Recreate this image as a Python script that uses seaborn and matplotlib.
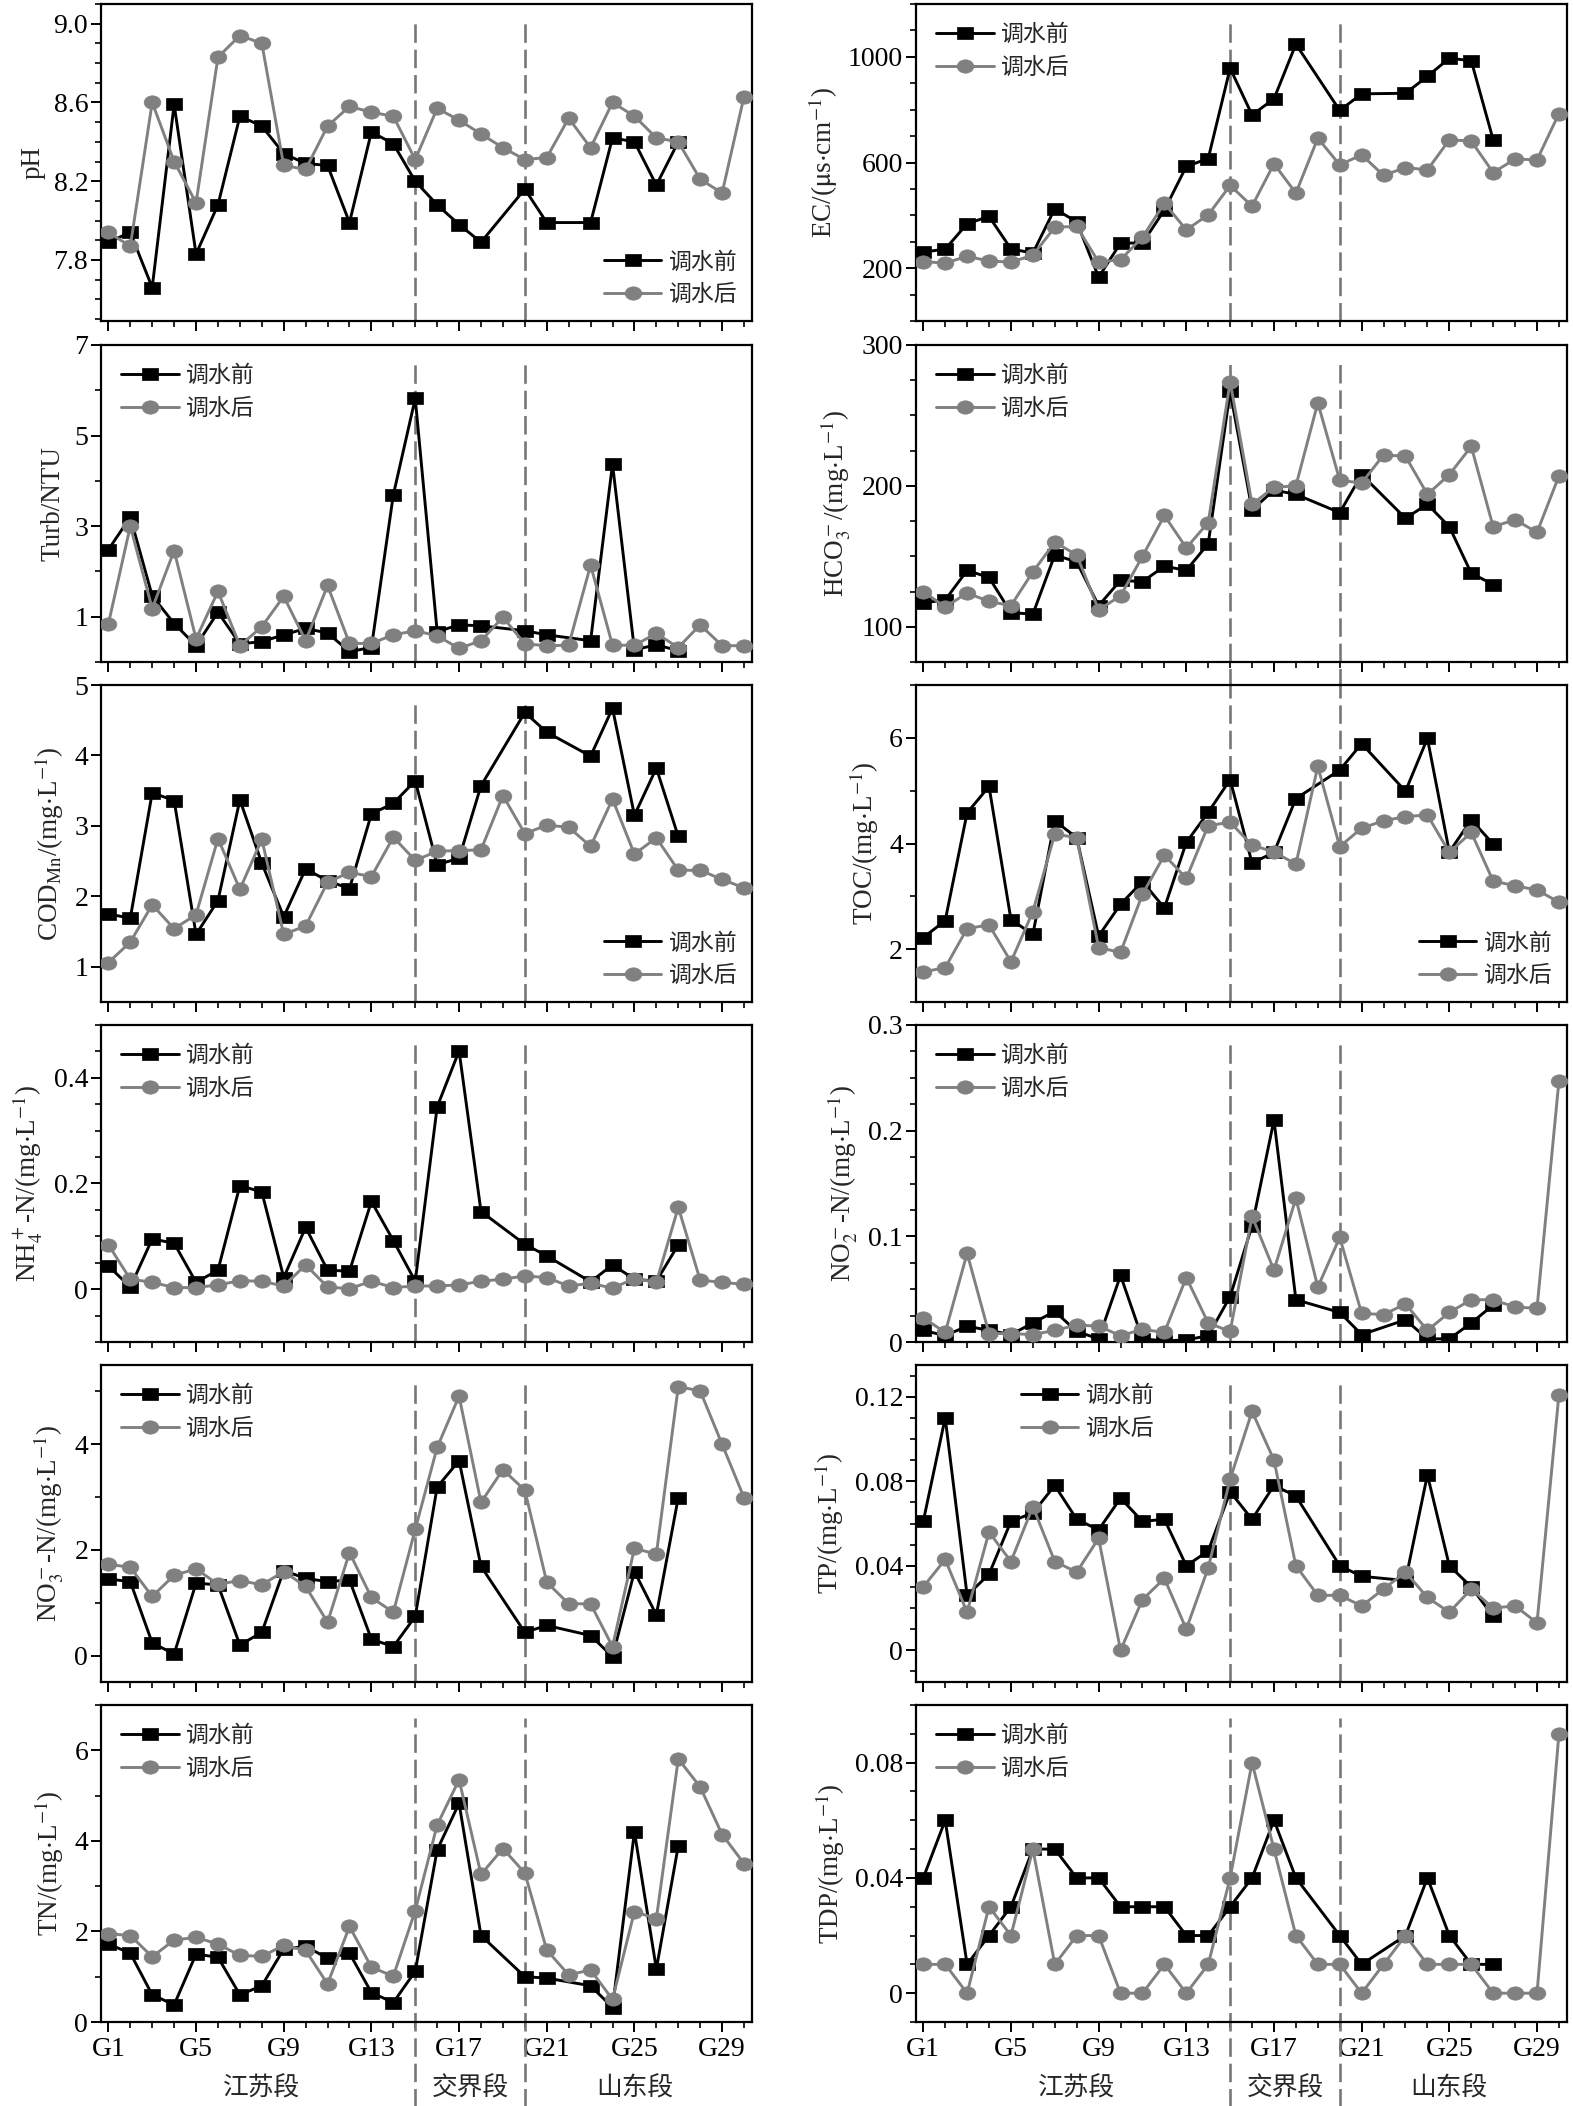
import numpy as np
import pandas as pd
import seaborn as sns
import matplotlib.pyplot as plt
from matplotlib.path import Path
from matplotlib.transforms import Affine2D
from matplotlib.ticker import MultipleLocator

nan = np.nan

# sites G1..G30
site_no = list(range(1, 31))
xtick_pos = [1, 5, 9, 13, 17, 21, 25, 29]
xtick_labels = ["G1", "G5", "G9", "G13", "G17", "G21", "G25", "G29"]
section_names = ["江苏段", "交界段", "山东段"]
section_pos = [8, 17.5, 25]
section_breaks = [15, 20]

# values (before = 调水前, after = 调水后)
ph_before = [7.89, 7.94, 7.66, 8.59, 7.83, 8.08, 8.53, 8.48, 8.34, 8.29, 8.28, 7.99, 8.45, 8.39, 8.20,
             8.08, 7.98, 7.89, nan, 8.16, 7.99, nan, 7.99, 8.42, 8.40, 8.18, 8.40, nan, nan, nan]
ph_after = [7.94, 7.87, 8.60, 8.30, 8.09, 8.83, 8.94, 8.90, 8.28, 8.26, 8.48, 8.58, 8.55, 8.53, 8.31,
            8.57, 8.51, 8.44, 8.37, 8.31, 8.32, 8.52, 8.37, 8.60, 8.53, 8.42, 8.40, 8.21, 8.14, 8.63]

ec_before = [261, 272, 368, 396, 273, 257, 425, 375, 166, 295, 295, 420, 585, 615, 957,
             780, 841, 1048, nan, 797, 860, nan, 862, 926, 995, 985, 686, nan, nan, nan]
ec_after = [225, 219, 245, 227, 223, 249, 355, 358, 223, 232, 317, 446, 345, 402, 513,
            435, 595, 484, 692, 591, 629, 551, 581, 572, 686, 681, 562, 613, 610, 785]

turb_before = [2.48, 3.20, 1.46, 0.85, 0.36, 1.10, 0.40, 0.45, 0.60, 0.74, 0.64, 0.23, 0.32, 3.69, 5.82,
               0.67, 0.82, 0.80, nan, 0.69, 0.60, nan, 0.47, 4.37, 0.27, 0.38, 0.25, nan, nan, nan]
turb_after = [0.84, 3.00, 1.18, 2.46, 0.51, 1.56, 0.36, 0.78, 1.45, 0.47, 1.69, 0.41, 0.41, 0.60, 0.69,
              0.58, 0.30, 0.47, 0.99, 0.40, 0.36, 0.37, 2.14, 0.37, 0.37, 0.63, 0.32, 0.82, 0.36, 0.36]

hco3_before = [117, 119, 140, 135, 110, 109, 151, 146, 115, 133, 132, 143, 140, 159, 267,
               183, 197, 194, nan, 181, 208, nan, 177, 187, 171, 138, 130, nan, nan, nan]
hco3_after = [125, 114, 124, 118, 115, 139, 160, 151, 112, 122, 150, 179, 156, 174, 274,
              187, 199, 200, 259, 204, 202, 222, 221, 194, 208, 228, 171, 176, 167, 207]

cod_before = [1.75, 1.69, 3.47, 3.36, 1.46, 1.94, 3.37, 2.47, 1.71, 2.39, 2.22, 2.11, 3.17, 3.32, 3.64,
              2.45, 2.54, 3.57, nan, 4.61, 4.33, nan, 3.99, 4.67, 3.15, 3.82, 2.85, nan, nan, nan]
cod_after = [1.06, 1.35, 1.88, 1.54, 1.74, 2.82, 2.10, 2.81, 1.46, 1.58, 2.20, 2.34, 2.28, 2.84, 2.51,
             2.64, 2.65, 2.66, 3.43, 2.89, 3.01, 2.98, 2.71, 3.38, 2.60, 2.83, 2.37, 2.37, 2.24, 2.12]

toc_before = [2.22, 2.54, 4.58, 5.08, 2.56, 2.28, 4.43, 4.11, 2.25, 2.85, 3.28, 2.78, 4.02, 4.59, 5.21,
              3.63, 3.83, 4.85, nan, 5.39, 5.89, nan, 4.99, 5.99, 3.84, 4.45, 3.99, nan, nan, nan]
toc_after = [1.57, 1.65, 2.39, 2.46, 1.76, 2.71, 4.18, 4.11, 2.03, 1.94, 3.04, 3.78, 3.34, 4.34, 4.40,
             3.97, 3.84, 3.61, 5.46, 3.94, 4.29, 4.43, 4.51, 4.54, 3.83, 4.21, 3.29, 3.20, 3.12, 2.89]

nh4_before = [0.044, 0.004, 0.095, 0.087, 0.013, 0.036, 0.196, 0.184, 0.022, 0.117, 0.036, 0.034, 0.166, 0.092, 0.015,
              0.345, 0.451, 0.147, nan, 0.085, 0.063, nan, 0.014, 0.046, 0.019, 0.015, 0.084, nan, nan, nan]
nh4_after = [0.084, 0.019, 0.013, 0.003, 0.003, 0.008, 0.016, 0.015, 0.006, 0.046, 0.004, 0.001, 0.015, 0.003, 0.006,
             0.006, 0.008, 0.015, 0.019, 0.025, 0.022, 0.006, 0.011, 0.002, 0.020, 0.013, 0.155, 0.017, 0.013, 0.009]

no2_before = [0.011, 0.006, 0.015, 0.011, 0.007, 0.018, 0.029, 0.010, 0.003, 0.063, 0.003, 0.001, 0.002, 0.006, 0.043,
              0.110, 0.210, 0.040, nan, 0.028, 0.007, nan, 0.021, 0.003, 0.003, 0.018, 0.035, nan, nan, nan]
no2_after = [0.023, 0.009, 0.084, 0.008, 0.008, 0.007, 0.011, 0.016, 0.015, 0.006, 0.012, 0.009, 0.061, 0.018, 0.010,
             0.119, 0.068, 0.136, 0.052, 0.099, 0.027, 0.026, 0.036, 0.011, 0.028, 0.040, 0.040, 0.033, 0.032, 0.247]

no3_before = [1.45, 1.40, 0.24, 0.03, 1.37, 1.34, 0.20, 0.44, 1.61, 1.46, 1.40, 1.43, 0.31, 0.17, 0.74,
              3.19, 3.69, 1.69, nan, 0.44, 0.57, nan, 0.38, -0.02, 1.59, 0.77, 2.99, nan, nan, nan]
no3_after = [1.73, 1.67, 1.12, 1.52, 1.64, 1.35, 1.42, 1.34, 1.59, 1.31, 0.63, 1.95, 1.10, 0.82, 2.39,
             3.94, 4.91, 2.90, 3.52, 3.13, 1.39, 0.98, 0.98, 0.17, 2.03, 1.92, 5.09, 5.01, 4.00, 2.99]

tp_before = [0.061, 0.110, 0.026, 0.036, 0.061, 0.065, 0.078, 0.062, 0.057, 0.072, 0.061, 0.062, 0.040, 0.047, 0.075,
             0.062, 0.078, 0.073, nan, 0.040, 0.035, nan, 0.033, 0.083, 0.040, 0.030, 0.016, nan, nan, nan]
tp_after = [0.030, 0.043, 0.018, 0.056, 0.042, 0.068, 0.042, 0.037, 0.053, 0.000, 0.024, 0.034, 0.010, 0.039, 0.081,
            0.113, 0.090, 0.040, 0.026, 0.026, 0.021, 0.029, 0.037, 0.025, 0.018, 0.029, 0.020, 0.021, 0.013, 0.121]

tn_before = [1.72, 1.52, 0.60, 0.38, 1.50, 1.43, 0.60, 0.80, 1.61, 1.67, 1.41, 1.52, 0.65, 0.43, 1.12,
             3.80, 4.83, 1.91, nan, 1.00, 0.97, nan, 0.80, 0.32, 4.20, 1.17, 3.89, nan, nan, nan]
tn_after = [1.95, 1.91, 1.44, 1.81, 1.87, 1.72, 1.47, 1.45, 1.69, 1.58, 0.84, 2.11, 1.21, 1.01, 2.46,
            4.35, 5.35, 3.26, 3.83, 3.29, 1.59, 1.04, 1.15, 0.50, 2.44, 2.28, 5.81, 5.19, 4.14, 3.50]

tdp_before = [0.04, 0.06, 0.01, 0.02, 0.03, 0.05, 0.05, 0.04, 0.04, 0.03, 0.03, 0.03, 0.02, 0.02, 0.03,
              0.04, 0.06, 0.04, nan, 0.02, 0.01, nan, 0.02, 0.04, 0.02, 0.01, 0.01, nan, nan, nan]
tdp_after = [0.01, 0.01, 0.00, 0.03, 0.02, 0.05, 0.01, 0.02, 0.02, 0.00, 0.00, 0.01, 0.00, 0.01, 0.04,
             0.08, 0.05, 0.02, 0.01, 0.01, 0.00, 0.01, 0.02, 0.01, 0.01, 0.01, 0.00, 0.00, 0.00, 0.09]

MG = r"/(mg$\cdot$L$^{-1}$)"

# ylabel, before, after, ylim, yticks, yticklabels, minor step, legend placement
panels = [
    ("pH", ph_before, ph_after, (7.49, 9.10), [7.8, 8.2, 8.6, 9.0], ["7.8", "8.2", "8.6", "9.0"], 0.1, "lower right"),
    (r"EC/($\mathrm{\mu}$s$\cdot$cm$^{-1}$)", ec_before, ec_after, (0, 1200), [200, 600, 1000], ["200", "600", "1000"], 100, "upper left"),
    ("Turb/NTU", turb_before, turb_after, (0, 7), [1, 3, 5, 7], ["1", "3", "5", "7"], 1, "upper left"),
    (r"HCO$_3^-$" + MG, hco3_before, hco3_after, (75, 300), [100, 200, 300], ["100", "200", "300"], 25, "upper left"),
    (r"COD$_{\mathrm{Mn}}$" + MG, cod_before, cod_after, (0.5, 5), [1, 2, 3, 4, 5], ["1", "2", "3", "4", "5"], None, "lower right"),
    ("TOC" + MG, toc_before, toc_after, (1, 7), [2, 4, 6], ["2", "4", "6"], 1, "lower right"),
    (r"NH$_4^+$-N" + MG, nh4_before, nh4_after, (-0.1, 0.5), [0, 0.2, 0.4], ["0", "0.2", "0.4"], 0.05, "upper left"),
    (r"NO$_2^-$-N" + MG, no2_before, no2_after, (0, 0.3), [0, 0.1, 0.2, 0.3], ["0", "0.1", "0.2", "0.3"], 0.025, "upper left"),
    (r"NO$_3^-$-N" + MG, no3_before, no3_after, (-0.5, 5.5), [0, 2, 4], ["0", "2", "4"], 1, "upper left"),
    ("TP" + MG, tp_before, tp_after, (-0.015, 0.135), [0, 0.04, 0.08, 0.12], ["0", "0.04", "0.08", "0.12"], 0.01, "tp"),
    ("TN" + MG, tn_before, tn_after, (0, 7), [0, 2, 4, 6], ["0", "2", "4", "6"], 1, "upper left"),
    ("TDP" + MG, tdp_before, tdp_after, (-0.01, 0.10), [0, 0.04, 0.08], ["0", "0.04", "0.08"], 0.01, "upper left"),
]

GRAY = "#808080"
DASH_GRAY = "#777777"

sns.set_theme(style="ticks", rc={
    "axes.edgecolor": "black",
    "axes.linewidth": 1.6,
    "xtick.color": "black",
    "ytick.color": "black",
    "xtick.major.size": 7, "xtick.minor.size": 4,
    "ytick.major.size": 7, "ytick.minor.size": 4,
    "xtick.major.width": 1.4, "xtick.minor.width": 1.2,
    "ytick.major.width": 1.4, "ytick.minor.width": 1.2,
    "xtick.direction": "out", "ytick.direction": "out",
})
plt.rcParams["font.family"] = ["Liberation Serif", "Noto Sans CJK SC"]
plt.rcParams["mathtext.fontset"] = "stix"

# the source figure is stretched sideways, so markers are a bit wider than tall
sq_marker = Path([(-1.3, -1), (1.3, -1), (1.3, 1), (-1.3, 1), (-1.3, -1)], closed=True)
ci_marker = Path.unit_circle().transformed(Affine2D().scale(1.25, 1.0))

fig = plt.figure(figsize=(15.73, 21.06), dpi=100)
W, H = 1573, 2106
col_left = [100.7, 915.6]
ax_w = 651
ax_h = 317
row_top = [4, 345, 685, 1025, 1365, 1705]

for i, (ylabel, before, after, ylim, yticks, ylabels, minor, leg) in enumerate(panels):
    row, col = divmod(i, 2)
    ax = fig.add_axes([col_left[col] / W, 1 - (row_top[row] + ax_h) / H, ax_w / W, ax_h / H])

    df = pd.DataFrame({"site": site_no, "before": before, "after": after})
    sns.lineplot(data=df.dropna(subset=["before"]), x="site", y="before", ax=ax,
                 color="black", lw=2.1, marker=sq_marker, markersize=11,
                 markeredgecolor="black", markeredgewidth=0.5, label="调水前", zorder=3)
    sns.lineplot(data=df, x="site", y="after", ax=ax,
                 color=GRAY, lw=2.1, marker=ci_marker, markersize=12,
                 markeredgecolor=GRAY, markeredgewidth=0.5, label="调水后", zorder=4)

    # section boundaries
    for xb in section_breaks:
        lo, hi = 0, 0.96
        if row == 5:
            lo = -0.27
        if row == 1 and col == 1:
            lo = -0.08
        if row == 2 and col == 1:
            hi = 1.0
        ax.axvline(xb, lo, hi, color=DASH_GRAY, ls=(0, (7, 2.6)), lw=1.9, clip_on=False, zorder=1.5)

    ax.set_xlim(0.65, 30.35)
    ax.set_ylim(*ylim)
    ax.set_xticks(xtick_pos)
    ax.xaxis.set_minor_locator(MultipleLocator(1))
    if row == 5:
        ax.set_xticklabels(xtick_labels, fontsize=20)
        for name, xp in zip(section_names, section_pos):
            ax.text(xp, -0.208, name, transform=ax.get_xaxis_transform(),
                    ha="center", va="center", fontsize=18.5)
    else:
        ax.set_xticklabels([])
    ax.set_yticks(yticks)
    ax.set_yticklabels(ylabels, fontsize=20)
    if minor:
        ax.yaxis.set_minor_locator(MultipleLocator(minor))
    ax.tick_params(axis="x", which="major", pad=4)
    ax.tick_params(axis="y", which="major", pad=2)
    ax.set_xlabel("")
    ax.set_ylabel(ylabel, fontsize=19.5, labelpad=6)

    leg_kw = dict(frameon=False, fontsize=16.5, handlelength=2.5, handletextpad=0.3, labelspacing=0.5)
    if leg == "tp":
        ax.legend(loc="upper left", bbox_to_anchor=(0.13, 1.0), **leg_kw)
    elif leg == "lower right":
        ax.legend(loc=leg, borderaxespad=0.25, **leg_kw)
    else:
        ax.legend(loc=leg, **leg_kw)

fig.savefig("out.png", dpi=100)
